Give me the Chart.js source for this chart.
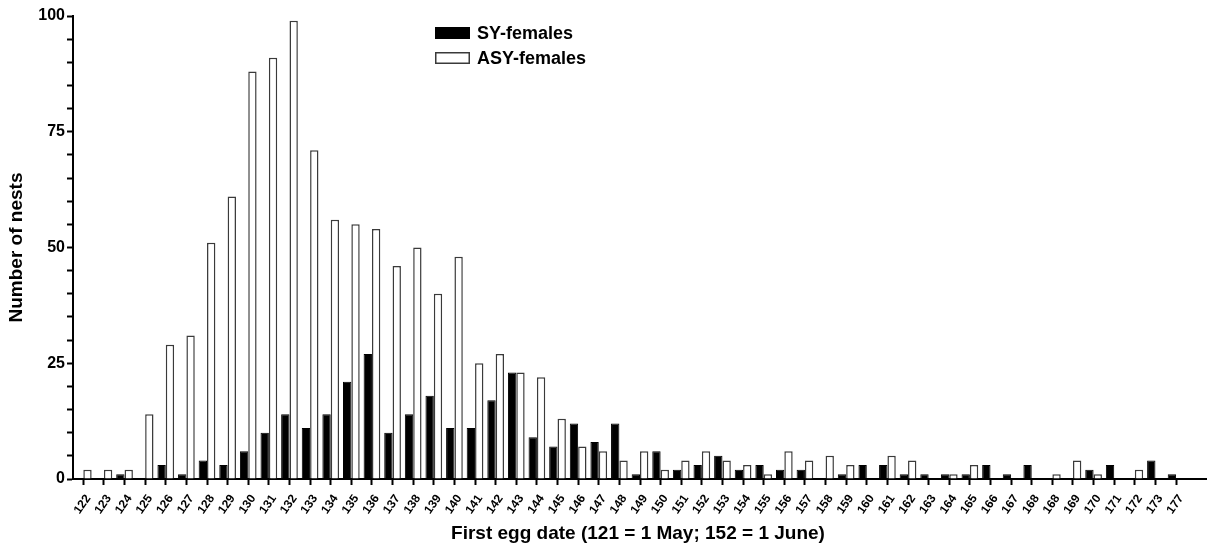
<!DOCTYPE html>
<html>
<head>
<meta charset="utf-8">
<script src="https://cdn.jsdelivr.net/npm/chart.js@4.4.1/dist/chart.umd.min.js"></script>
<style>
  html, body { margin: 0; padding: 0; background: #fff; overflow: hidden; }
  canvas { display: block; }
</style>
</head>
<body>
<canvas id="c" width="1207" height="546"></canvas>
<script>
// ---- Data ----
const tickLabels = ['122','123','124','125','126','127','128','129','130','131','132','133','134','135','136','137','138','139','140','141','142','143','144','145','146','147','148','149','150','151','152','153','154','155','156','157','158','159','160','161','162','163','164','165','166','167','168','168','169','170','171','172','173','177'];
const syFemales  = [0,0,1,0,3,1,4,3,6,10,14,11,14,21,27,10,14,18,11,11,17,23,9,7,12,8,12,1,6,2,3,5,2,3,2,2,0,1,3,3,1,1,1,1,3,1,3,0,0,2,3,0,4,1];
const asyFemales = [2,2,2,14,29,31,51,61,88,91,99,71,56,55,54,46,50,40,48,25,27,23,22,13,7,6,4,6,2,4,6,4,3,1,6,4,5,3,0,5,4,0,1,3,0,0,0,1,4,1,0,2,0,0];
const seriesNames = ['SY-females', 'ASY-females'];
const yTickLabelStep = 25;
const xTitle = 'First egg date (121 = 1 May; 152 = 1 June)';
const yTitle = 'Number of nests';

const FONT = '"Liberation Sans", Arial, Helvetica, sans-serif';

const labels = tickLabels.concat(['']);

const legendAndTitlePlugin = {
  id: 'customLegend',
  afterDraw(chart) {
    const ctx = chart.ctx;
    ctx.save();
    const items = chart.data.datasets;
    const x0 = 435, y0 = 27, bw = 35, bh = 12, rowH = 25;
    ctx.font = 'bold 18px ' + FONT;
    ctx.textBaseline = 'middle';
    ctx.textAlign = 'left';
    items.forEach((ds, i) => {
      const y = y0 + i * rowH;
      ctx.fillStyle = ds.backgroundColor;
      ctx.fillRect(x0, y, bw, bh);
      ctx.lineWidth = 1.5;
      ctx.strokeStyle = ds.borderColor;
      ctx.strokeRect(x0 + 0.75, y + 0.75, bw - 1.5, bh - 1.5);
      ctx.fillStyle = '#000';
      ctx.fillText(ds.label, x0 + 42, y + bh / 2 + 1);
    });
    // x-axis title
    ctx.font = 'bold 19px ' + FONT;
    ctx.textAlign = 'center';
    ctx.textBaseline = 'middle';
    ctx.fillStyle = '#000';
    ctx.fillText(xTitle, 638, 534);
    ctx.restore();
  }
};

new Chart(document.getElementById('c'), {
  type: 'bar',
  data: {
    labels: labels,
    datasets: [
      {
        label: seriesNames[0],
        data: syFemales,
        backgroundColor: '#000000',
        borderColor: '#000000',
        borderWidth: 1,
        barPercentage: 1.0,
        categoryPercentage: 0.81
      },
      {
        label: seriesNames[1],
        data: asyFemales,
        backgroundColor: '#ffffff',
        borderColor: '#3a3a3a',
        borderWidth: 1.5,
        barPercentage: 1.0,
        categoryPercentage: 0.81
      }
    ]
  },
  options: {
    responsive: false,
    animation: false,
    devicePixelRatio: 1,
    layout: { padding: { top: 16, right: 0, left: 0, bottom: 0 } },
    plugins: {
      legend: { display: false },
      tooltip: { enabled: false },
      title: { display: false }
    },
    scales: {
      x: {
        offset: true,
        afterFit(scale) { scale.height = 67; scale.paddingRight = 0; scale.paddingLeft = 0; },
        border: { display: true, color: '#000', width: 2 },
        grid: {
          offset: false,
          drawOnChartArea: false,
          drawTicks: true,
          tickLength: 6,
          tickWidth: 2,
          tickColor: (c) => (c.index >= tickLabels.length ? 'rgba(0,0,0,0)' : '#000'),
          color: '#000'
        },
        ticks: {
          autoSkip: false,
          maxRotation: 55,
          minRotation: 55,
          padding: 7,
          labelOffset: 5,
          color: '#000',
          font: { family: FONT, size: 12, weight: 'bold' }
        }
      },
      y: {
        min: 0,
        max: 100,
        afterFit(scale) { scale.width = 73; },
        border: { display: true, color: '#000', width: 2 },
        grid: {
          drawOnChartArea: false,
          drawTicks: true,
          tickLength: 6,
          tickWidth: 2,
          tickColor: '#000',
          color: '#000'
        },
        ticks: {
          stepSize: 5,
          autoSkip: false,
          padding: 2,
          color: '#000',
          font: { family: FONT, size: 16, weight: 'bold' },
          callback: (v) => (v % yTickLabelStep === 0 ? String(v) : '')
        },
        title: {
          display: true,
          text: yTitle,
          color: '#000',
          font: { family: FONT, size: 19, weight: 'bold' },
          padding: { top: 5, bottom: 0 }
        }
      }
    }
  },
  plugins: [legendAndTitlePlugin]
});
</script>
</body>
</html>
